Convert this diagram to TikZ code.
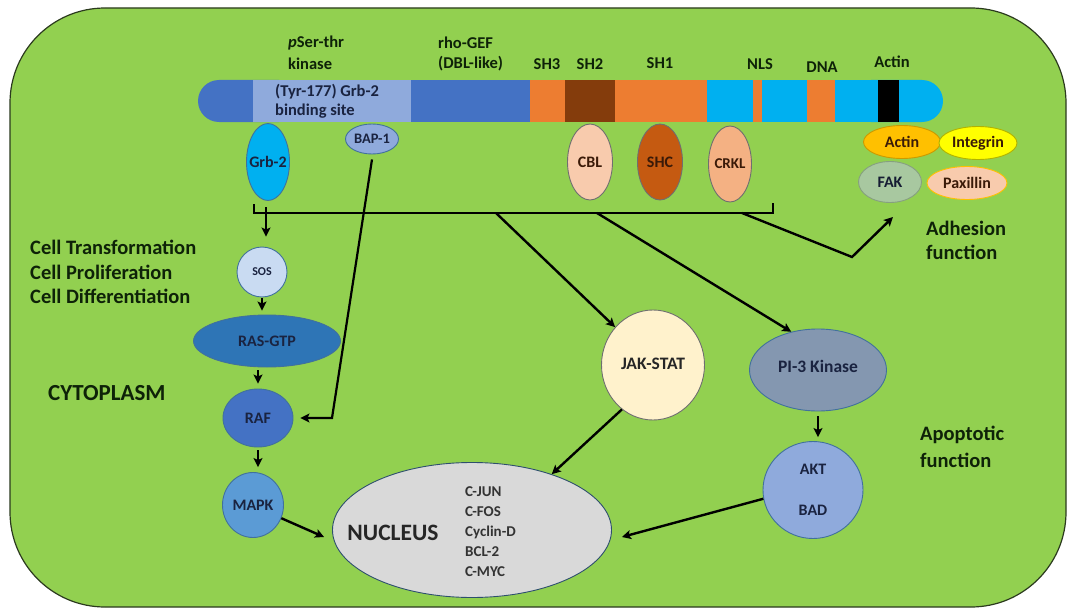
\documentclass[tikz,border=0pt]{standalone}
\usepackage{fontspec}
\setmainfont{Carlito}
\usetikzlibrary{shapes.geometric,arrows.meta,calc}
\definecolor{cellg}{HTML}{92D050}
\definecolor{cellb}{HTML}{2B3A1E}
\definecolor{dblue}{HTML}{4472C4}
\definecolor{lblue}{HTML}{8FAADC}
\definecolor{orng}{HTML}{ED7D31}
\definecolor{brwn}{HTML}{843C0C}
\definecolor{cyn}{HTML}{00B0F0}
\definecolor{rasc}{HTML}{2E75B6}
\definecolor{rafc}{HTML}{4472C4}
\definecolor{mapkc}{HTML}{5B9BD5}
\definecolor{sosc}{HTML}{C9DBF2}
\definecolor{cblc}{HTML}{F8CBAD}
\definecolor{shcc}{HTML}{C55A11}
\definecolor{crklc}{HTML}{F4B183}
\definecolor{actc}{HTML}{FFC000}
\definecolor{intc}{HTML}{FFFF00}
\definecolor{fakc}{HTML}{A8C8A0}
\definecolor{paxc}{HTML}{F8CBAD}
\definecolor{jakc}{HTML}{FFF2CC}
\definecolor{pic}{HTML}{8497B0}
\definecolor{aktc}{HTML}{8FAADC}
\definecolor{nucc}{HTML}{D9D9D9}
\definecolor{bluebd}{HTML}{41719C}
\definecolor{greybd}{HTML}{6F6F6F}
\definecolor{navy}{HTML}{1A2340}
\definecolor{dkbr}{HTML}{3A1A08}
\definecolor{dtext}{HTML}{0E2208}
\newcommand\zb[1]{\makebox[0pt]{#1}}
\begin{document}
\begin{tikzpicture}[x=1pt,y=-1pt,
  every node/.style={font=\bfseries},
  ell/.style={ellipse, inner sep=0pt, line width=0.9pt},
  sm/.style={font=\fontsize{16}{18}\selectfont\bfseries},
  toplab/.style={font=\fontsize{16.5}{19}\selectfont\bfseries, text=dtext, inner sep=0pt},
  side/.style={font=\fontsize{20.5}{24}\selectfont\bfseries, text=dtext, inner sep=0pt, anchor=west},
  arr/.style={line width=2.4pt, -{Stealth[length=9pt,width=9pt,inset=2pt]}},
  brk/.style={line width=2.6pt}
]
\useasboundingbox (0,0) rectangle (1069,610);
\fill[white] (0,0) rectangle (1069,610);
\draw[cellb, line width=1.2pt, fill=cellg, rounded corners=95pt] (10,8) rectangle (1066,607);

% protein bar
\fill[dblue, rounded corners=21pt] (198,80) rectangle (300,122);
\fill[cyn, rounded corners=21pt] (850,80) rectangle (943,122);
\fill[lblue] (253,80) rectangle (411,122);
\fill[dblue] (411,80) rectangle (530,122);
\fill[orng] (530,80) rectangle (565,122);
\fill[brwn] (565,80) rectangle (615,122);
\fill[orng] (615,80) rectangle (707,122);
\fill[cyn] (707,80) rectangle (878,122);
\fill[orng] (753,80) rectangle (762,122);
\fill[orng] (807,80) rectangle (835,122);
\fill[black] (878,80) rectangle (899,122);

% labels above bar
\node[toplab, anchor=west] (pser) at (288,43) {\textit{p}Ser-thr};
\node[toplab, anchor=west] (kin) at (288,64) {kinase};
\node[toplab, anchor=west] (rho) at (438,43) {rho-GEF};
\node[toplab, anchor=west] (dbl) at (438,64) {(DBL-like)};
\node[toplab] (sh3) at (547,64) {SH3};
\node[toplab] (sh2) at (590,64) {SH2};
\node[toplab] (sh1) at (660,63) {SH1};
\node[toplab] (nls) at (760,64) {NLS};
\node[toplab] (dna) at (822,67) {DNA};
\node[toplab] (actl) at (892,62) {Actin};
\node[toplab, text=navy, anchor=west] (tyr) at (275,92) {(Tyr-177) Grb-2};
\node[toplab, text=navy, anchor=west] (bind) at (275,111) {binding site};

% bar-bound proteins
\node[ell, sm, draw=bluebd, fill=cyn, text=navy, minimum width=43pt, minimum height=77pt] (grb) at (268,162) {\zb{Grb-2}};
\node[ell, font=\fontsize{14.5}{16}\selectfont\bfseries, draw=bluebd, fill=lblue, text=navy, minimum width=53pt, minimum height=30pt] (bap) at (372,139) {\zb{BAP-1}};
\node[ell, sm, draw=greybd, fill=cblc, text=dkbr, minimum width=45pt, minimum height=76pt] (cbl) at (590,162) {\zb{CBL}};
\node[ell, sm, draw=greybd, fill=shcc, text=dkbr, minimum width=45pt, minimum height=76pt] (shc) at (660,162) {\zb{SHC}};
\node[ell, font=\fontsize{15}{16}\selectfont\bfseries, draw=greybd, fill=crklc, text=dkbr, minimum width=43pt, minimum height=76pt] (crkl) at (730,164) {\zb{CRKL}};
\node[ell, sm, draw=actc!80!black, fill=actc, text=dkbr, minimum width=77pt, minimum height=33pt] (act) at (902,142) {\zb{Actin}};
\node[ell, sm, draw=intc!70!black, fill=intc, text=dkbr, minimum width=78pt, minimum height=33pt] (integ) at (978,143) {\zb{Integrin}};
\node[ell, sm, draw=fakc!80!black, fill=fakc, text=navy!80!black, minimum width=63pt, minimum height=41pt] (fak) at (890,182) {\zb{FAK}};
\node[ell, sm, draw=actc, fill=paxc, text=dkbr, minimum width=80pt, minimum height=33pt] (pax) at (967,183) {\zb{Paxillin}};

% bracket
\coordinate (bl) at (254,204);
\coordinate (bl2) at (254,213);
\coordinate (br2) at (773,213);
\coordinate (br) at (773,203);
\draw[brk] (bl) -- (bl2) -- (br2) -- (br);
\coordinate (gbr) at (266,207);
\coordinate (jbr) at (496,213);
\coordinate (pbr) at (597,213);
\coordinate (abr) at (742,213);
\coordinate (akink) at (852,257);
\coordinate (atip) at (893,217);

% left pathway
\node[ell, font=\fontsize{12}{13}\selectfont\bfseries, draw=bluebd, fill=sosc, text=navy, minimum width=50pt, minimum height=50pt] (sos) at (262,272) {\zb{SOS}};
\node[ell, sm, draw=bluebd, fill=rasc, text=navy, minimum width=147pt, minimum height=52pt] (ras) at (267,341) {\zb{RAS-GTP}};
\node[ell, sm, draw=bluebd, fill=rafc, text=navy, minimum width=70pt, minimum height=58pt] (raf) at (258,418) {\zb{RAF}};
\node[ell, sm, draw=bluebd, fill=mapkc, text=navy, minimum width=61pt, minimum height=65pt] (mapk) at (253,505) {\zb{MAPK}};

% nucleus
\node[ell, draw=bluebd!70!black, fill=nucc, minimum width=279pt, minimum height=135pt] (nuc) at (472,530) {};
\node[font=\fontsize{23.5}{26}\selectfont\bfseries, text=black!85, inner sep=0pt] (nuct) at (393,533) {NUCLEUS};
\node[font=\fontsize{15}{20}\selectfont\bfseries, text=black!80, inner sep=0pt, anchor=north west, align=left] (genes) at (465,486) {C-JUN\\C-FOS\\Cyclin-D\\BCL-2\\C-MYC};

% right pathways
\node[ell, font=\fontsize{17.5}{19}\selectfont\bfseries, draw=greybd, fill=jakc, text=black!85, minimum width=103pt, minimum height=110pt] (jak) at (653,365) {\zb{\raisebox{3pt}{JAK-STAT}}};
\node[ell, font=\fontsize{17.5}{19}\selectfont\bfseries, draw=bluebd, fill=pic, text=navy, minimum width=137pt, minimum height=82pt] (pi3) at (818,370) {\zb{\raisebox{7pt}{PI-3 Kinase}}};
\node[ell, sm, draw=bluebd, fill=aktc, text=navy, minimum width=100pt, minimum height=97pt, align=center] (akt) at (813,490) {\zb{AKT}\\[23pt]\zb{BAD}};

% side labels
\node[side] (ct) at (30,247) {Cell Transformation};
\node[side] (cp) at (30,272) {Cell Proliferation};
\node[side] (cd) at (30,296) {Cell Differentiation};
\node[side, font=\fontsize{23}{26}\selectfont\bfseries] (cyto) at (48,393) {CYTOPLASM};
\node[side] (adh) at (926,228) {Adhesion};
\node[side] (adhf) at (926,252) {function};
\node[side] (apo) at (920,435) {Apoptotic};
\node[side] (apof) at (920,460) {function};

% connectors
\draw[arr, shorten >=10pt] (gbr) -- (gbr |- sos.north);
\draw[arr, line width=2pt, shorten <=1pt, shorten >=4pt] (sos.south) -- (sos.south |- ras.north);
\draw[arr, line width=2pt, shorten <=3pt, shorten >=5pt] (raf.north |- ras.south) -- (raf.north);
\draw[arr, line width=2pt, shorten <=3pt, shorten >=5pt] (raf.south) -- (raf.south |- mapk.north);
\coordinate (bapk) at (332,418);
\draw[arr, line width=2.2pt] ([yshift=-5pt]bap.south) -- (bapk) -- ([xshift=7pt]raf.east);
\draw[arr] (mapk.-25) -- ([xshift=-8pt]nuc.west |- 0,537);
\draw[arr] (jbr) -- (jak.135);
\draw[arr] (pbr) -- (pi3.125);
\draw[arr, line width=2pt, shorten <=5pt, shorten >=4pt] (pi3.south) -- (pi3.south |- akt.north);
\draw[arr] (jak.235) -- (nuc.35);
\draw[arr] (akt.190) -- ([xshift=10pt]nuc.east |- 0,537);
\draw[arr] (abr) -- (akink) -- (atip);
\end{tikzpicture}
\end{document}
